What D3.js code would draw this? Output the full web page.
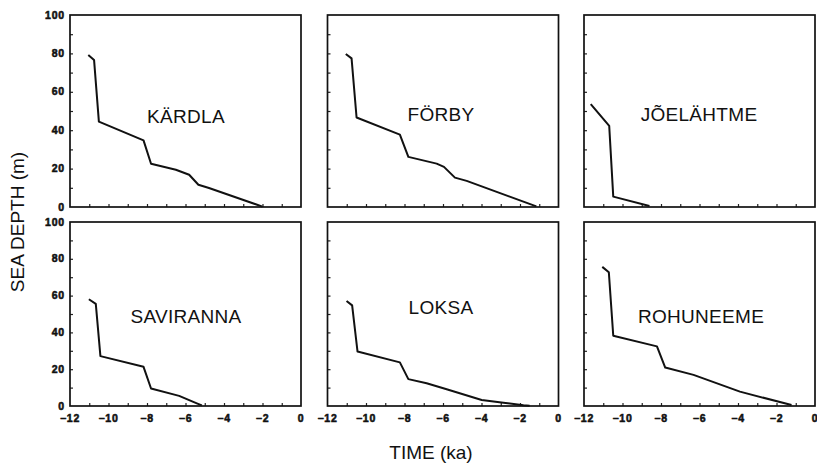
<!DOCTYPE html>
<html>
<head>
<meta charset="utf-8">
<script src="https://cdn.jsdelivr.net/npm/d3@7"></script>
<style>
  html, body { margin: 0; padding: 0; background: #fff; }
  svg text { font-family: "Liberation Sans", Arial, Helvetica, sans-serif; fill: #111; }
  .tick-lbl { font-weight: bold; font-size: 10.5px; letter-spacing: 0.8px; stroke: #111; stroke-width: 0.55px; }
  .site { font-size: 19px; letter-spacing: 0.3px; }
  .axis-title { font-size: 19px; }
</style>
</head>
<body>
<svg id="chart" width="817" height="463"></svg>
<script>
// Relative sea-level curves (sea depth vs. time) for six Estonian sites
const sites = ["KÄRDLA", "FÖRBY", "JÕELÄHTME", "SAVIRANNA", "LOKSA", "ROHUNEEME"];

// time in ka (negative = before present)
const kardlaTime    = [-11.05, -10.75, -10.50, -8.18, -7.79, -6.50, -5.81, -5.33, -4.78, -2.0];
const kardlaDepth   = [79.2, 76.6, 44.5, 34.7, 22.5, 19.4, 16.8, 11.6, 9.9, 0.2];

const forbyTime     = [-11.05, -10.75, -10.49, -8.24, -7.80, -6.33, -5.95, -5.38, -4.77, -1.15];
const forbyDepth    = [79.7, 77.4, 46.6, 37.7, 26.1, 22.6, 20.9, 15.3, 13.6, 0.3];

const joelahtmeTime  = [-11.65, -10.69, -10.48, -8.6];
const joelahtmeDepth = [53.6, 42.2, 5.4, 0.5];

const savirannaTime  = [-11.02, -10.66, -10.42, -8.18, -7.79, -6.33, -5.38, -5.15];
const savirannaDepth = [58.0, 55.5, 27.1, 21.3, 9.5, 5.5, 1.3, 0.3];

const loksaTime     = [-11.01, -10.72, -10.44, -8.24, -7.80, -6.85, -5.81, -3.99, -2.86, -1.82, -1.5];
const loksaDepth    = [57.1, 54.7, 29.6, 23.7, 14.6, 12.4, 9.1, 3.3, 1.8, 0.4, 0.2];

const rohuneemeTime  = [-11.05, -10.71, -10.48, -8.21, -7.78, -6.31, -3.90, -1.22];
const rohuneemeDepth = [75.6, 72.7, 38.2, 32.4, 20.9, 16.9, 7.8, 0.5];

const seriesTime  = [kardlaTime, forbyTime, joelahtmeTime, savirannaTime, loksaTime, rohuneemeTime];
const seriesDepth = [kardlaDepth, forbyDepth, joelahtmeDepth, savirannaDepth, loksaDepth, rohuneemeDepth];

const xTicks = [-12, -10, -8, -6, -4, -2, 0];
const yTicks = [0, 20, 40, 60, 80, 100];

const svg = d3.select("#chart");

// panel frames
const colX = [70, 327.5, 584];
const colW = 231;
const rows = [{ top: 15, bottom: 207 }, { top: 222, bottom: 406 }];
const labelPos = [[186, 123], [441, 121], [699, 121], [186, 323], [441, 314], [701, 323]];

const minus = s => String(s).replace("-", "\u2212");

sites.forEach((name, i) => {
  const col = i % 3, row = Math.floor(i / 3);
  const x0 = colX[col], x1 = colX[col] + colW;
  const { top, bottom } = rows[row];

  const x = d3.scaleLinear().domain([-12, 0]).range([x0, x1]);
  const y = d3.scaleLinear().domain([0, 100]).range([bottom, top]);

  const g = svg.append("g");

  // inward minor ticks on left and bottom
  const yAxis = d3.axisLeft(y).tickValues(d3.range(10, 100, 10)).tickSize(-3).tickFormat("");
  g.append("g").attr("transform", `translate(${x0},0)`).call(yAxis)
    .call(s => s.select(".domain").remove())
    .call(s => s.selectAll("line").attr("stroke", "#222").attr("stroke-width", 1.2));
  const xAxis = d3.axisBottom(x).tickValues(d3.range(-11, 0, 1)).tickSize(-3).tickFormat("");
  g.append("g").attr("transform", `translate(0,${bottom})`).call(xAxis)
    .call(s => s.select(".domain").remove())
    .call(s => s.selectAll("line").attr("stroke", "#222").attr("stroke-width", 1.2));

  // frame
  g.append("rect")
    .attr("x", x0).attr("y", top)
    .attr("width", colW).attr("height", bottom - top)
    .attr("fill", "none").attr("stroke", "#111").attr("stroke-width", 1.7);

  // y tick labels on left column
  if (col === 0) {
    g.selectAll(".ylbl").data(yTicks).enter().append("text")
      .attr("class", "tick-lbl")
      .attr("x", x0 - 5).attr("y", d => y(d)).attr("dy", "0.35em")
      .attr("text-anchor", "end").text(d => d);
  }
  // x tick labels on bottom row
  if (row === 1) {
    g.selectAll(".xlbl").data(xTicks).enter().append("text")
      .attr("class", "tick-lbl")
      .attr("x", d => x(d)).attr("y", bottom + 12).attr("dy", "0.35em")
      .attr("text-anchor", "middle").text(d => minus(d));
  }

  // curve
  const pts = seriesTime[i].map((t, k) => [t, seriesDepth[i][k]]);
  g.append("path")
    .datum(pts)
    .attr("fill", "none").attr("stroke", "#111").attr("stroke-width", 2)
    .attr("stroke-linejoin", "round")
    .attr("d", d3.line().x(d => x(d[0])).y(d => y(d[1])));

  // site name
  g.append("text").attr("class", "site")
    .attr("x", labelPos[i][0]).attr("y", labelPos[i][1])
    .attr("text-anchor", "middle").text(name);
});

// axis titles
svg.append("text").attr("class", "axis-title")
  .attr("transform", "translate(24,222) rotate(-90)")
  .attr("text-anchor", "middle").text("SEA DEPTH (m)");
svg.append("text").attr("class", "axis-title")
  .attr("x", 431).attr("y", 459)
  .attr("text-anchor", "middle").text("TIME (ka)");
</script>
</body>
</html>
